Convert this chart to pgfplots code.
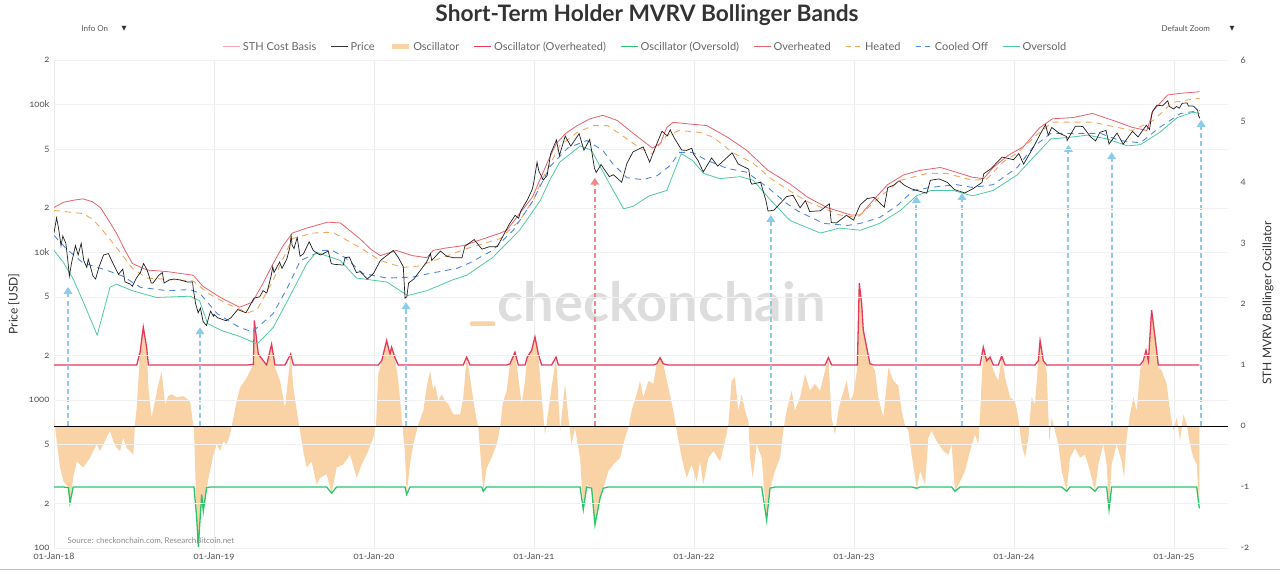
\documentclass[border=0pt]{standalone}
\usepackage{fontspec}
\setmainfont{Lato}[Numbers=OldStyle]
\newfontfamily\symfont{DejaVu Sans}
\usepackage{pgfplots}
\usepackage{pgfplotstable}
\pgfplotsset{compat=1.18}
\usetikzlibrary{arrows.meta}

\definecolor{oscfill}{HTML}{F9D3A6}
\definecolor{oscred}{HTML}{E5395C}
\definecolor{oscgreen}{HTML}{2DC36A}
\definecolor{bandred}{HTML}{E6606E}
\definecolor{heated}{HTML}{F2A65A}
\definecolor{cooled}{HTML}{4F86E0}
\definecolor{oversold}{HTML}{4FC9A4}
\definecolor{arrowblue}{HTML}{8CCBEB}
\definecolor{arrowred}{HTML}{F08A8A}
\definecolor{sthbasis}{HTML}{F0A8B8}
\definecolor{tickgray}{HTML}{555555}
\definecolor{legendgray}{HTML}{666666}
\definecolor{titlegray}{HTML}{333333}
\definecolor{wmgray}{HTML}{DDDDDD}

\pgfplotstableread{
x p
2018.000 13500
2018.016 17100
2018.027 14900
2018.044 11100
2018.055 12900
2018.074 11500
2018.085 9100
2018.096 6900
2018.110 8500
2018.134 11100
2018.151 9600
2018.170 11500
2018.186 8800
2018.205 7900
2018.214 9000
2018.244 6900
2018.260 6600
2018.282 8000
2018.310 9600
2018.340 9800
2018.367 8500
2018.403 7100
2018.430 7700
2018.444 6300
2018.477 6100
2018.490 5900
2018.515 6700
2018.540 7300
2018.560 8400
2018.582 7600
2018.608 6200
2018.619 6200
2018.655 7000
2018.677 7300
2018.688 6200
2018.720 6500
2018.750 6600
2018.790 6500
2018.833 6300
2018.866 6300
2018.871 5600
2018.885 4500
2018.901 3900
2018.915 4200
2018.932 3400
2018.953 3200
2018.978 4000
2018.997 3700
2019.000 3800
2019.025 3600
2019.075 3450
2019.105 3600
2019.148 4100
2019.200 3900
2019.250 4900
2019.285 5000
2019.307 5500
2019.330 5300
2019.358 7000
2019.367 8000
2019.375 7300
2019.410 8600
2019.425 7800
2019.455 9000
2019.473 10700
2019.482 12900
2019.488 11200
2019.500 10600
2019.520 12600
2019.538 9400
2019.560 9800
2019.595 11800
2019.620 10300
2019.655 9700
2019.667 9600
2019.714 10200
2019.733 8400
2019.750 8300
2019.808 8200
2019.819 9200
2019.845 9300
2019.890 7300
2019.915 7400
2019.958 6600
2019.997 7200
2020.040 8800
2020.120 10300
2020.150 9300
2020.183 8000
2020.194 4900
2020.205 5000
2020.216 6200
2020.249 6600
2020.329 8600
2020.353 9800
2020.361 8800
2020.415 10200
2020.455 9400
2020.497 9200
2020.550 9200
2020.568 11000
2020.626 12200
2020.675 10500
2020.720 10900
2020.770 10900
2020.805 12800
2020.847 15600
2020.882 17800
2020.904 17000
2020.917 19000
2020.960 22800
2020.988 26500
2020.997 29000
2021.019 40700
2021.030 35500
2021.058 30800
2021.082 33100
2021.104 46400
2021.140 57500
2021.159 45200
2021.195 61200
2021.230 52300
2021.282 63500
2021.312 49000
2021.348 58000
2021.359 49500
2021.378 37000
2021.389 34700
2021.419 39200
2021.471 32500
2021.496 33500
2021.548 29800
2021.581 40000
2021.619 47800
2021.682 51700
2021.723 40700
2021.748 48100
2021.800 66000
2021.833 61300
2021.852 67500
2021.858 64900
2021.882 58000
2021.923 49200
2021.953 48900
2021.986 50600
2021.997 46300
2022.025 41800
2022.058 35000
2022.110 43500
2022.148 38300
2022.238 47100
2022.277 39500
2022.342 36500
2022.353 30100
2022.362 28900
2022.416 29800
2022.449 22500
2022.463 19000
2022.500 19300
2022.578 23800
2022.619 24300
2022.663 20000
2022.696 22400
2022.723 18900
2022.789 19100
2022.846 21300
2022.858 15900
2022.890 15800
2022.953 17800
2022.997 16500
2023.038 20900
2023.082 23100
2023.126 23500
2023.189 20200
2023.211 27400
2023.249 28500
2023.282 30500
2023.315 28400
2023.362 26800
2023.455 25100
2023.477 30700
2023.532 31400
2023.584 29700
2023.627 26600
2023.693 25200
2023.745 27000
2023.800 29700
2023.811 34000
2023.855 36700
2023.926 44100
2023.997 42300
2024.030 46600
2024.060 39500
2024.123 51800
2024.162 62500
2024.197 73100
2024.214 62000
2024.236 69900
2024.282 64000
2024.329 60600
2024.332 57000
2024.384 71400
2024.430 71000
2024.479 60300
2024.510 56700
2024.537 64800
2024.575 66800
2024.594 54000
2024.644 64100
2024.682 53900
2024.740 65800
2024.775 60300
2024.827 72400
2024.847 67800
2024.863 88700
2024.893 98900
2024.928 98000
2024.961 106000
2024.970 97200
2024.997 93400
2025.016 96900
2025.033 94500
2025.052 102000
2025.082 102400
2025.090 97700
2025.121 97500
2025.148 91400
2025.153 84300
2025.162 80500
}\price

\pgfplotstableread{
x p
2018.00 20100
2018.06 21800
2018.12 22500
2018.18 23000
2018.24 22000
2018.29 20100
2018.34 16500
2018.39 13500
2018.44 10500
2018.49 8400
2018.58 7600
2018.71 7400
2018.87 7000
2018.93 5900
2019.04 4950
2019.16 4250
2019.24 4600
2019.30 6000
2019.37 8400
2019.43 11000
2019.49 13500
2019.58 14600
2019.71 16000
2019.79 15800
2019.85 14000
2019.91 12400
2019.98 10500
2020.04 9500
2020.14 10300
2020.24 9500
2020.33 9200
2020.37 10300
2020.45 10700
2020.56 11100
2020.66 12100
2020.79 13500
2020.83 14100
2020.91 18300
2020.99 23600
2021.04 31500
2021.09 42000
2021.14 54600
2021.20 64000
2021.27 72000
2021.35 80000
2021.43 84500
2021.52 78000
2021.62 63800
2021.74 50700
2021.79 54600
2021.83 70000
2021.87 75800
2021.96 74000
2022.08 72000
2022.21 60000
2022.33 48900
2022.46 36000
2022.60 29000
2022.71 23600
2022.83 20100
2022.98 17900
2023.04 17900
2023.12 22500
2023.21 28700
2023.31 33400
2023.41 35800
2023.54 37500
2023.64 34800
2023.74 32200
2023.81 31500
2023.87 37500
2023.96 45000
2024.06 52000
2024.16 69600
2024.24 80000
2024.37 81600
2024.49 87000
2024.62 78000
2024.74 70000
2024.83 66700
2024.87 91000
2024.96 116000
2025.04 119000
2025.16 122000
}\overheated

\pgfplotstableread{
x p
2018.00 19200
2018.06 18900
2018.18 18300
2018.24 16800
2018.29 14700
2018.39 10800
2018.49 7800
2018.58 6700
2018.87 6400
2018.96 5300
2019.08 4500
2019.21 3900
2019.27 4100
2019.37 6500
2019.49 12400
2019.62 13500
2019.74 13700
2019.91 10800
2020.04 8800
2020.18 7900
2020.29 8100
2020.35 8600
2020.58 10600
2020.79 12400
2020.91 16400
2021.00 23000
2021.05 31000
2021.16 52500
2021.27 64700
2021.37 72000
2021.46 72000
2021.58 58700
2021.66 50700
2021.74 46500
2021.83 61700
2021.91 66700
2022.04 64700
2022.12 60000
2022.24 47400
2022.37 40000
2022.49 31000
2022.60 26000
2022.71 22000
2022.91 17900
2023.02 17200
2023.16 23600
2023.29 30700
2023.46 34200
2023.58 34200
2023.74 30700
2023.83 31300
2023.93 40700
2024.02 47000
2024.14 62000
2024.24 76000
2024.49 76000
2024.62 71000
2024.74 66700
2024.87 78000
2024.99 103000
2025.12 109000
2025.16 110000
}\heatedtab

\pgfplotstableread{
x p
2018.00 13000
2018.08 10500
2018.18 8500
2018.33 7560
2018.43 6900
2018.54 5800
2018.71 5500
2018.85 5600
2018.91 5300
2019.02 3850
2019.16 3100
2019.24 2900
2019.37 3850
2019.46 5800
2019.54 8800
2019.68 10300
2019.74 10300
2019.82 9200
2019.93 7200
2020.08 6700
2020.24 6800
2020.35 7200
2020.52 7800
2020.60 8500
2020.74 10300
2020.87 14100
2020.99 22000
2021.10 38000
2021.21 50700
2021.33 57100
2021.43 48900
2021.49 40000
2021.58 32000
2021.68 31000
2021.77 33000
2021.85 38600
2021.91 47400
2021.99 47400
2022.08 41900
2022.21 36900
2022.33 34800
2022.46 27500
2022.58 21400
2022.65 19000
2022.81 15700
2022.96 15200
2023.04 15700
2023.16 17200
2023.27 20700
2023.37 26200
2023.48 27500
2023.64 28700
2023.74 27500
2023.87 28700
2024.02 37500
2024.12 51600
2024.23 63800
2024.37 63800
2024.54 63800
2024.66 57100
2024.79 55000
2024.91 70000
2025.04 86800
2025.16 91000
}\cooledtab

\pgfplotstableread{
x p
2018.00 10300
2018.06 8500
2018.12 6600
2018.18 4700
2018.23 3500
2018.27 2750
2018.31 4000
2018.35 5800
2018.39 6100
2018.49 5500
2018.64 4950
2018.85 5050
2018.91 4700
2018.96 3300
2019.05 2950
2019.16 2700
2019.27 2400
2019.37 3100
2019.47 4950
2019.58 8400
2019.64 10000
2019.79 8800
2019.89 6700
2020.08 6300
2020.21 5100
2020.33 5500
2020.49 6500
2020.58 7000
2020.74 9200
2020.91 14100
2021.04 22500
2021.10 31000
2021.16 40700
2021.29 52500
2021.36 48900
2021.46 30700
2021.56 19700
2021.62 20500
2021.72 24100
2021.83 26200
2021.92 46500
2021.99 41900
2022.06 34200
2022.16 31500
2022.29 32500
2022.37 30700
2022.48 22500
2022.60 16400
2022.79 13500
2022.91 14600
2023.04 14100
2023.16 15700
2023.29 19200
2023.39 24100
2023.48 26200
2023.62 26200
2023.74 24100
2023.87 26200
2024.02 33400
2024.12 43800
2024.23 58500
2024.33 59700
2024.46 62000
2024.58 58500
2024.71 52500
2024.79 53500
2024.91 64700
2025.02 81600
2025.12 88600
2025.16 87000
}\oversoldtab

\pgfplotstableread{
x o
2018.000 0.14
2018.017 -0.25
2018.038 -0.68
2018.058 -0.90
2018.090 -1.01
2018.100 -1.26
2018.120 -0.85
2018.142 -0.58
2018.183 -0.68
2018.225 -0.52
2018.267 -0.30
2018.288 -0.41
2018.329 -0.19
2018.350 -0.08
2018.371 -0.25
2018.392 -0.36
2018.413 -0.41
2018.433 -0.19
2018.454 -0.36
2018.475 -0.41
2018.496 -0.47
2018.506 0.03
2018.517 0.30
2018.538 1.21
2018.558 1.62
2018.579 1.29
2018.590 0.63
2018.610 0.14
2018.631 0.41
2018.652 0.68
2018.673 0.90
2018.694 0.36
2018.714 0.49
2018.735 0.52
2018.767 0.47
2018.808 0.49
2018.850 0.41
2018.867 0.08
2018.875 -0.08
2018.892 -1.51
2018.902 -1.98
2018.923 -1.12
2018.933 -1.40
2018.954 -1.01
2018.975 -0.74
2018.996 -0.47
2019.017 -0.30
2019.038 -0.41
2019.058 -0.25
2019.079 -0.30
2019.100 -0.14
2019.117 0.08
2019.142 0.41
2019.163 0.63
2019.204 0.79
2019.246 1.01
2019.252 1.73
2019.277 1.18
2019.308 1.07
2019.329 0.96
2019.360 1.34
2019.381 0.96
2019.413 0.74
2019.444 0.30
2019.479 1.18
2019.496 0.63
2019.527 0.08
2019.538 -0.08
2019.558 -0.41
2019.579 -0.68
2019.610 -0.58
2019.642 -0.96
2019.663 -0.85
2019.704 -0.79
2019.735 -1.10
2019.767 -0.68
2019.808 -0.63
2019.850 -0.47
2019.892 -0.85
2019.923 -0.63
2019.964 -0.41
2019.996 -0.19
2020.013 0.03
2020.027 0.85
2020.048 1.07
2020.079 1.40
2020.100 1.18
2020.110 1.29
2020.131 1.12
2020.152 0.74
2020.173 0.14
2020.194 -0.47
2020.204 -1.12
2020.225 -0.63
2020.246 -0.30
2020.277 0.03
2020.308 0.25
2020.329 0.63
2020.350 0.91
2020.371 0.58
2020.381 0.69
2020.402 0.41
2020.423 0.52
2020.444 0.41
2020.465 0.36
2020.496 0.19
2020.538 0.19
2020.558 0.47
2020.579 1.13
2020.600 0.80
2020.631 0.25
2020.652 -0.03
2020.673 -0.74
2020.683 -1.07
2020.704 -0.69
2020.735 -0.52
2020.767 -0.30
2020.788 -0.03
2020.804 0.36
2020.829 0.58
2020.850 1.02
2020.881 1.21
2020.902 0.80
2020.923 0.36
2020.944 0.74
2020.958 1.13
2020.985 1.24
2021.006 1.46
2021.027 1.18
2021.048 0.47
2021.069 -0.14
2021.090 0.25
2021.110 0.63
2021.138 1.13
2021.152 0.47
2021.163 -0.08
2021.194 0.69
2021.215 0.14
2021.235 -0.30
2021.256 -0.03
2021.288 -0.52
2021.308 -1.37
2021.329 -0.96
2021.360 -1.02
2021.381 -1.62
2021.413 -1.18
2021.433 -1.02
2021.465 -0.74
2021.496 -0.63
2021.538 -0.52
2021.569 -0.19
2021.590 -0.03
2021.610 0.25
2021.642 0.52
2021.663 0.74
2021.683 0.47
2021.715 0.74
2021.746 0.69
2021.767 1.02
2021.788 1.12
2021.808 1.02
2021.840 0.63
2021.871 0.25
2021.892 -0.08
2021.923 -0.52
2021.954 -0.85
2021.985 -0.63
2022.017 -0.91
2022.038 -0.58
2022.058 -0.96
2022.090 -0.52
2022.121 -0.41
2022.163 -0.58
2022.194 -0.25
2022.215 0.03
2022.235 0.74
2022.256 0.80
2022.277 0.25
2022.298 0.52
2022.319 0.25
2022.340 0.08
2022.350 -0.52
2022.367 -0.85
2022.392 -0.30
2022.423 -0.52
2022.454 -1.54
2022.475 -1.02
2022.506 -0.74
2022.538 -0.52
2022.558 -0.08
2022.579 0.25
2022.610 0.58
2022.631 0.25
2022.663 0.47
2022.694 0.85
2022.725 0.58
2022.756 0.69
2022.788 0.58
2022.819 0.91
2022.840 1.12
2022.860 0.14
2022.881 -0.14
2022.902 0.25
2022.923 0.47
2022.954 0.74
2022.975 0.41
2022.996 0.52
2023.021 0.96
2023.033 2.34
2023.048 2.00
2023.058 1.57
2023.079 1.29
2023.100 1.02
2023.121 0.96
2023.131 0.91
2023.152 0.47
2023.183 0.14
2023.215 0.96
2023.246 0.74
2023.277 0.66
2023.298 0.25
2023.319 0.00
2023.340 -0.08
2023.360 -0.47
2023.392 -1.02
2023.413 -0.74
2023.444 -0.96
2023.465 -0.19
2023.485 -0.08
2023.517 -0.25
2023.558 -0.41
2023.590 -0.47
2023.610 -0.30
2023.631 -1.07
2023.663 -0.91
2023.694 -0.74
2023.725 -0.41
2023.756 -0.14
2023.777 -0.30
2023.788 0.19
2023.808 1.29
2023.829 1.07
2023.850 1.13
2023.871 0.91
2023.902 0.74
2023.923 1.15
2023.944 0.80
2023.975 0.47
2024.006 0.41
2024.027 0.14
2024.048 -0.30
2024.069 -0.52
2024.090 -0.19
2024.110 0.47
2024.131 0.36
2024.152 1.07
2024.163 1.40
2024.183 1.07
2024.204 0.91
2024.221 -0.25
2024.235 0.14
2024.256 -0.08
2024.277 -0.30
2024.298 -0.74
2024.329 -1.07
2024.350 -0.52
2024.381 -0.36
2024.413 -0.52
2024.444 -0.47
2024.475 -0.74
2024.506 -1.07
2024.527 -0.63
2024.558 -0.30
2024.579 -0.63
2024.594 -1.37
2024.610 -0.63
2024.642 -0.30
2024.673 -0.58
2024.688 -0.85
2024.704 -0.19
2024.725 0.19
2024.746 0.47
2024.767 0.25
2024.788 0.91
2024.808 1.07
2024.825 1.24
2024.840 1.07
2024.860 1.90
2024.881 1.46
2024.902 0.96
2024.923 0.91
2024.954 0.69
2024.975 0.25
2024.996 -0.08
2025.017 0.14
2025.038 -0.25
2025.058 0.19
2025.079 0.03
2025.100 -0.30
2025.121 -0.52
2025.142 -0.63
2025.158 -1.35
}\osc

\begin{document}
\begin{tikzpicture}[x=1pt,y=1pt]
\path[use as bounding box] (0,0) rectangle (1280,571);
\draw[black!25, line width=1pt] (0,1.5) -- (1280,1.5);

% watermark
\node[anchor=base, text=wmgray, font=\fontsize{54}{62}\bfseries\selectfont] at (662,249) {checkonchain};
\fill[oscfill, rounded corners=1pt] (470,245) rectangle (495,249.5);

% ---------- oscillator axis ----------
\begin{axis}[
  at={(54pt,23pt)}, anchor=south west, scale only axis,
  width=1174pt, height=488pt,
  xmin=2018, xmax=2025.3375, ymin=-2, ymax=6,
  axis line style={draw=none},
  major tick length=0pt,
  xtick={2018,2019,2020,2021,2022,2023,2024,2025},
  xticklabels={01-Jan-18,01-Jan-19,01-Jan-20,01-Jan-21,01-Jan-22,01-Jan-23,01-Jan-24,01-Jan-25},
  ytick={-2,-1,0,1,2,3,4,5,6},
  yticklabels={-2,-1,0,1,2,3,4,5,6},
  yticklabel pos=right,
  yticklabel style={anchor=west, xshift=9pt},
  xticklabel style={yshift=-1pt},
  tick label style={font=\fontsize{9.5}{11}\selectfont, text=tickgray},
  /pgf/number format/assume math mode=true,
  xmajorgrids, grid style={color=black!7, line width=0.6pt},
]
\addplot[fill=oscfill, draw=none] table[x=x, y=o] {\osc} \closedcycle;
\addplot[oscred, line width=1.3pt] table[x=x, y expr={max(\thisrow{o},1)}] {\osc};
\addplot[oscgreen, line width=1.3pt] table[x=x, y expr={min(\thisrow{o},-1)}] {\osc};
\addplot[black, line width=0.9pt] coordinates {(2018,0) (2025.3375,0)};
% arrows marking the oversold / overheated calls
\pgfplotsset{arrowline/.style={line width=1.9pt, dash pattern=on 5pt off 3pt, -{Triangle[width=8.5pt,length=7pt]}}}
\addplot[arrowblue, arrowline] coordinates {(2018.0875,0) (2018.0875,2.28)};
\addplot[arrowblue, arrowline] coordinates {(2018.9125,0) (2018.9125,1.62)};
\addplot[arrowblue, arrowline] coordinates {(2020.200,0) (2020.200,2.03)};
\addplot[arrowred, arrowline] coordinates {(2021.380,0) (2021.380,4.07)};
\addplot[arrowblue, arrowline] coordinates {(2022.480,0) (2022.480,3.46)};
\addplot[arrowblue, arrowline] coordinates {(2023.390,0) (2023.390,3.77)};
\addplot[arrowblue, arrowline] coordinates {(2023.675,0) (2023.675,3.82)};
\addplot[arrowblue, arrowline] coordinates {(2024.340,0) (2024.340,4.61)};
\addplot[arrowblue, arrowline] coordinates {(2024.610,0) (2024.610,4.49)};
\addplot[arrowblue, arrowline] coordinates {(2025.170,0) (2025.170,5.02)};
\end{axis}

% ---------- price axis ----------
\begin{axis}[
  at={(54pt,23pt)}, anchor=south west, scale only axis,
  width=1174pt, height=488pt,
  xmin=2018, xmax=2025.3375,
  ymode=log, ymin=100, ymax=200000,
  axis line style={draw=none},
  major tick length=0pt, minor tick length=0pt,
  xtick=\empty,
  ytick={100,200,500,1000,2000,5000,10000,20000,50000,100000,200000},
  yticklabels={100,2,5,1000,2,5,10k,2,5,100k,2},
  yticklabel style={anchor=east, xshift=-1pt},
  tick label style={font=\fontsize{9.5}{11}\selectfont, text=tickgray},
  /pgf/number format/assume math mode=true,
  ymajorgrids, grid style={color=black!5, line width=0.5pt},
  legend columns=-1,
  legend style={at={(axis description cs:0.504,1.027)}, anchor=center,
    draw=none, fill=none, text=legendgray,
    font=\fontsize{11}{13}\selectfont,
    /tikz/every even column/.append style={column sep=12.5pt}},
  legend image code/.code={\draw[#1] (0pt,0pt) -- (17pt,0pt);},
]
\addlegendimage{sthbasis, line width=0.9pt}
\addlegendentry{STH Cost Basis}
\addlegendimage{black!80, line width=0.9pt}
\addlegendentry{Price}
\addlegendimage{oscfill, line width=5pt}
\addlegendentry{Oscillator}
\addlegendimage{oscred, line width=1.2pt}
\addlegendentry{Oscillator (Overheated)}
\addlegendimage{oscgreen, line width=1.2pt}
\addlegendentry{Oscillator (Oversold)}
\addlegendimage{bandred, line width=0.9pt}
\addlegendentry{Overheated}
\addlegendimage{heated, line width=0.9pt, dash pattern=on 5pt off 4pt}
\addlegendentry{Heated}
\addlegendimage{cooled, line width=0.9pt, dash pattern=on 5pt off 4pt}
\addlegendentry{Cooled Off}
\addlegendimage{oversold, line width=0.9pt}
\addlegendentry{Oversold}

\addplot[bandred, line width=0.8pt, forget plot] table[x=x, y=p] {\overheated};
\addplot[heated, line width=0.9pt, dash pattern=on 6pt off 5pt, forget plot] table[x=x, y=p] {\heatedtab};
\addplot[cooled, line width=0.9pt, dash pattern=on 6pt off 5pt, forget plot] table[x=x, y=p] {\cooledtab};
\addplot[oversold, line width=0.8pt, forget plot] table[x=x, y=p] {\oversoldtab};
\addplot[black!88, line width=0.7pt, forget plot] table[x=x, y=p] {\price};
\end{axis}

% texts
\node[text=titlegray, font=\fontsize{22.7}{26}\bfseries\selectfont] at (647,556) {Short-Term Holder MVRV Bollinger Bands};
\node[anchor=west, text=tickgray, font=\fontsize{8}{10}\selectfont] at (78,542) {Info On};
\node[text=titlegray, font=\symfont\fontsize{6.5}{8}\selectfont] at (124,542.5) {▼};
\node[anchor=west, text=tickgray, font=\fontsize{8}{10}\selectfont] at (1158,542) {Default Zoom};
\node[text=titlegray, font=\symfont\fontsize{6.5}{8}\selectfont] at (1232,542.5) {▼};
\node[rotate=90, text=titlegray, font=\fontsize{12}{14}\selectfont] at (14,267) {Price [USD]};
\node[rotate=90, text=titlegray, font=\fontsize{12}{14}\selectfont] at (1268,268) {STH MVRV Bollinger Oscillator};
\node[anchor=west, text=black!45, font=\fontsize{8}{10}\selectfont] at (64,30) {Source: checkonchain.com, ResearchBitcoin.net};
\end{tikzpicture}
\end{document}
